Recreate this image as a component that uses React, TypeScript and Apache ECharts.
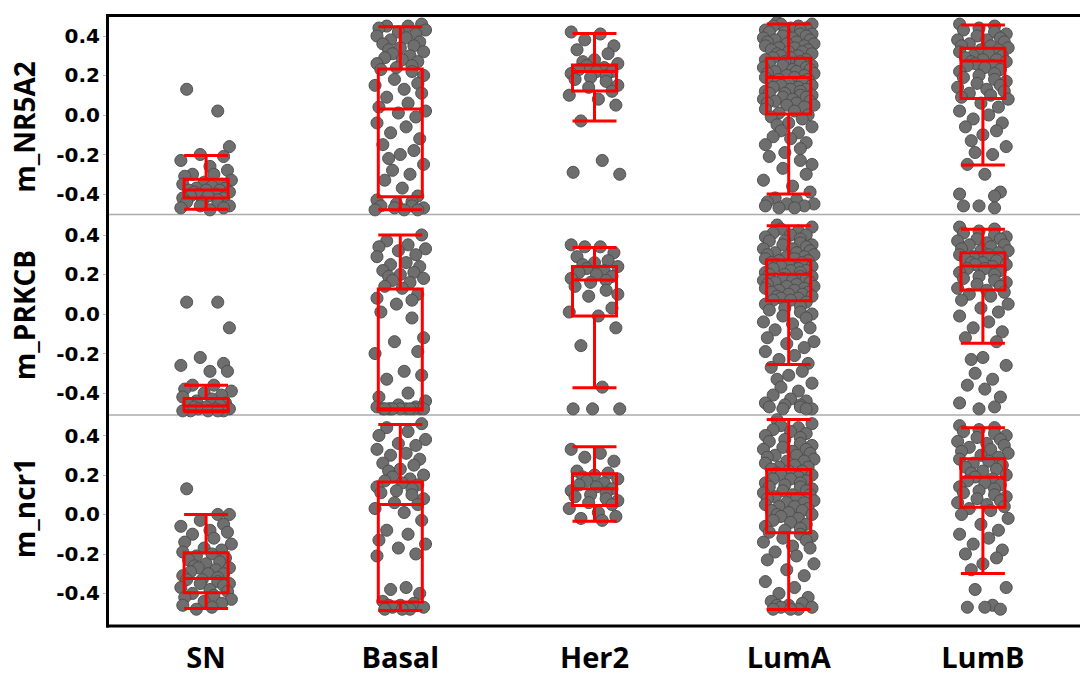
import React, { useEffect, useRef } from "react";
import * as echarts from "echarts";

const CATEGORIES = ["SN", "Basal", "Her2", "LumA", "LumB"];
const Y_TICKS = [-0.4, -0.2, 0, 0.2, 0.4];
const PANEL_NAMES = ["m_NR5A2", "m_PRKCB", "m_ncr1"];

// box stats per category: [min, Q1, median, Q3, max]
const nr5a2Box = [
  [-0.477, -0.42, -0.38, -0.325, -0.205],
  [-0.48, -0.414, 0.03, 0.233, 0.447],
  [-0.03, 0.122, 0.22, 0.253, 0.412],
  [-0.4, 0.005, 0.19, 0.287, 0.46],
  [-0.253, 0.084, 0.273, 0.338, 0.456],
];
const prkcbBox = [
  [-0.495, -0.49, -0.465, -0.427, -0.36],
  [-0.486, -0.486, -0.48, 0.127, 0.4],
  [-0.373, -0.01, 0.172, 0.24, 0.336],
  [-0.255, 0.067, 0.201, 0.273, 0.447],
  [-0.148, 0.122, 0.243, 0.31, 0.429],
];
const ncr1Box = [
  [-0.476, -0.397, -0.324, -0.194, 0.0],
  [-0.486, -0.444, 0.05, 0.164, 0.456],
  [-0.034, 0.046, 0.13, 0.206, 0.343],
  [-0.481, -0.093, 0.105, 0.228, 0.481],
  [-0.299, 0.037, 0.189, 0.282, 0.439],
];

// individual sample values
const nr5a2SN = [0.13, 0.02, -0.16, -0.2, -0.21, -0.23, -0.26, -0.28, -0.3, -0.3, -0.31, -0.33, -0.34, -0.35, -0.35, -0.36, -0.37, -0.37, -0.38, -0.38, -0.38, -0.39, -0.39, -0.4, -0.4, -0.41, -0.41, -0.42, -0.42, -0.43, -0.44, -0.44, -0.45, -0.46, -0.46, -0.47, -0.47, -0.48];
const nr5a2Basal = [0.46, 0.45, 0.45, 0.44, 0.43, 0.42, 0.41, 0.4, 0.39, 0.38, 0.37, 0.36, 0.35, 0.34, 0.33, 0.32, 0.31, 0.3, 0.29, 0.28, 0.27, 0.26, 0.25, 0.24, 0.23, 0.22, 0.2, 0.18, 0.16, 0.15, 0.13, 0.11, 0.09, 0.06, 0.04, 0.02, 0.01, -0.01, -0.04, -0.06, -0.09, -0.12, -0.15, -0.18, -0.2, -0.22, -0.25, -0.28, -0.3, -0.33, -0.37, -0.41, -0.43, -0.44, -0.45, -0.46, -0.46, -0.47, -0.47, -0.48, -0.48, -0.48];
const nr5a2Her2 = [0.42, 0.41, 0.38, 0.35, 0.33, 0.31, 0.28, 0.27, 0.26, 0.25, 0.24, 0.23, 0.22, 0.22, 0.21, 0.2, 0.19, 0.18, 0.17, 0.15, 0.14, 0.12, 0.1, 0.08, 0.05, -0.03, -0.23, -0.29, -0.3];
const nr5a2LumA = [0.47, 0.46, 0.46, 0.45, 0.45, 0.44, 0.44, 0.43, 0.43, 0.42, 0.42, 0.41, 0.41, 0.4, 0.4, 0.39, 0.39, 0.38, 0.38, 0.37, 0.37, 0.36, 0.36, 0.35, 0.35, 0.34, 0.34, 0.33, 0.33, 0.32, 0.32, 0.31, 0.31, 0.3, 0.3, 0.29, 0.29, 0.28, 0.28, 0.27, 0.27, 0.26, 0.26, 0.25, 0.25, 0.24, 0.24, 0.23, 0.23, 0.22, 0.22, 0.21, 0.21, 0.2, 0.2, 0.19, 0.19, 0.18, 0.18, 0.17, 0.17, 0.16, 0.16, 0.15, 0.15, 0.14, 0.14, 0.13, 0.13, 0.12, 0.12, 0.11, 0.11, 0.1, 0.1, 0.09, 0.09, 0.08, 0.08, 0.07, 0.07, 0.06, 0.06, 0.05, 0.05, 0.04, 0.03, 0.02, 0.01, 0.0, -0.01, -0.02, -0.04, -0.05, -0.06, -0.08, -0.09, -0.11, -0.12, -0.14, -0.15, -0.17, -0.19, -0.21, -0.23, -0.25, -0.27, -0.3, -0.33, -0.36, -0.39, -0.42, -0.43, -0.44, -0.45, -0.45, -0.46, -0.46, -0.47, -0.47];
const nr5a2LumB = [0.46, 0.45, 0.44, 0.43, 0.42, 0.41, 0.4, 0.39, 0.38, 0.38, 0.37, 0.36, 0.35, 0.35, 0.34, 0.33, 0.33, 0.32, 0.31, 0.3, 0.3, 0.29, 0.28, 0.28, 0.27, 0.27, 0.26, 0.25, 0.25, 0.24, 0.23, 0.22, 0.21, 0.2, 0.19, 0.18, 0.17, 0.16, 0.15, 0.14, 0.13, 0.12, 0.11, 0.1, 0.09, 0.08, 0.06, 0.04, 0.02, 0.0, -0.02, -0.04, -0.06, -0.08, -0.1, -0.13, -0.16, -0.19, -0.2, -0.25, -0.3, -0.39, -0.4, -0.41, -0.46, -0.46, -0.47];

const prkcbSN = [0.06, 0.06, -0.07, -0.22, -0.25, -0.26, -0.29, -0.29, -0.36, -0.36, -0.38, -0.39, -0.4, -0.41, -0.42, -0.43, -0.44, -0.45, -0.46, -0.46, -0.47, -0.47, -0.48, -0.48, -0.48, -0.49, -0.49, -0.49, -0.49, -0.49];
const prkcbBasal = [0.4, 0.37, 0.35, 0.34, 0.33, 0.32, 0.3, 0.29, 0.26, 0.25, 0.24, 0.22, 0.21, 0.2, 0.19, 0.18, 0.17, 0.16, 0.14, 0.13, 0.1, 0.08, 0.07, 0.05, 0.01, -0.02, -0.12, -0.14, -0.19, -0.2, -0.29, -0.31, -0.33, -0.4, -0.42, -0.44, -0.46, -0.47, -0.47, -0.48, -0.48, -0.48, -0.48, -0.48, -0.48, -0.48, -0.48, -0.48, -0.48, -0.48];
const prkcbHer2 = [0.35, 0.34, 0.34, 0.31, 0.29, 0.27, 0.26, 0.25, 0.24, 0.23, 0.22, 0.21, 0.2, 0.19, 0.18, 0.17, 0.16, 0.14, 0.12, 0.1, 0.09, 0.03, 0.01, -0.01, -0.07, -0.16, -0.37, -0.48, -0.48, -0.48];
const prkcbLumA = [0.45, 0.44, 0.43, 0.42, 0.41, 0.4, 0.4, 0.39, 0.38, 0.37, 0.37, 0.36, 0.35, 0.35, 0.34, 0.33, 0.33, 0.32, 0.31, 0.31, 0.3, 0.3, 0.29, 0.29, 0.28, 0.28, 0.27, 0.27, 0.26, 0.26, 0.25, 0.25, 0.24, 0.24, 0.23, 0.23, 0.22, 0.22, 0.21, 0.21, 0.2, 0.2, 0.19, 0.19, 0.18, 0.18, 0.17, 0.17, 0.16, 0.16, 0.15, 0.15, 0.14, 0.14, 0.13, 0.13, 0.12, 0.12, 0.11, 0.11, 0.1, 0.1, 0.09, 0.09, 0.08, 0.08, 0.07, 0.07, 0.06, 0.05, 0.04, 0.03, 0.02, 0.01, 0.0, -0.01, -0.02, -0.04, -0.05, -0.07, -0.08, -0.1, -0.12, -0.14, -0.15, -0.17, -0.19, -0.21, -0.23, -0.25, -0.27, -0.29, -0.31, -0.33, -0.35, -0.37, -0.39, -0.41, -0.43, -0.44, -0.45, -0.46, -0.46, -0.47, -0.47, -0.48, -0.48, -0.48];
const prkcbLumB = [0.44, 0.43, 0.42, 0.41, 0.4, 0.39, 0.38, 0.38, 0.37, 0.36, 0.35, 0.35, 0.34, 0.33, 0.32, 0.32, 0.31, 0.3, 0.3, 0.29, 0.28, 0.28, 0.27, 0.26, 0.26, 0.25, 0.25, 0.24, 0.23, 0.23, 0.22, 0.21, 0.2, 0.19, 0.18, 0.17, 0.16, 0.15, 0.14, 0.13, 0.12, 0.11, 0.1, 0.09, 0.07, 0.05, 0.03, 0.01, -0.01, -0.04, -0.07, -0.09, -0.12, -0.14, -0.22, -0.23, -0.26, -0.3, -0.33, -0.36, -0.38, -0.42, -0.45, -0.47, -0.48];

const ncr1SN = [0.13, 0.0, 0.0, -0.03, -0.05, -0.06, -0.08, -0.09, -0.1, -0.12, -0.14, -0.15, -0.17, -0.18, -0.19, -0.2, -0.21, -0.22, -0.23, -0.24, -0.25, -0.26, -0.27, -0.27, -0.28, -0.29, -0.3, -0.3, -0.31, -0.32, -0.33, -0.33, -0.34, -0.35, -0.35, -0.36, -0.37, -0.38, -0.39, -0.4, -0.41, -0.42, -0.43, -0.44, -0.45, -0.46, -0.47, -0.48];
const ncr1Basal = [0.46, 0.44, 0.42, 0.4, 0.38, 0.36, 0.35, 0.33, 0.31, 0.3, 0.28, 0.26, 0.25, 0.23, 0.22, 0.2, 0.19, 0.18, 0.17, 0.16, 0.15, 0.14, 0.13, 0.12, 0.11, 0.1, 0.08, 0.06, 0.05, 0.03, 0.01, -0.03, -0.08, -0.1, -0.13, -0.15, -0.17, -0.2, -0.21, -0.37, -0.38, -0.4, -0.44, -0.45, -0.46, -0.46, -0.47, -0.47, -0.48, -0.48, -0.48];
const ncr1Her2 = [0.33, 0.31, 0.29, 0.27, 0.22, 0.21, 0.2, 0.19, 0.18, 0.17, 0.16, 0.15, 0.14, 0.13, 0.12, 0.11, 0.1, 0.09, 0.08, 0.07, 0.06, 0.05, 0.03, 0.01, -0.01, -0.02, -0.03];
const ncr1LumA = [0.48, 0.46, 0.45, 0.44, 0.43, 0.42, 0.41, 0.4, 0.39, 0.38, 0.37, 0.36, 0.35, 0.34, 0.33, 0.33, 0.32, 0.31, 0.3, 0.3, 0.29, 0.28, 0.27, 0.27, 0.26, 0.25, 0.24, 0.24, 0.23, 0.22, 0.22, 0.21, 0.2, 0.2, 0.19, 0.18, 0.18, 0.17, 0.16, 0.16, 0.15, 0.14, 0.14, 0.13, 0.12, 0.12, 0.11, 0.1, 0.1, 0.09, 0.08, 0.08, 0.07, 0.06, 0.06, 0.05, 0.04, 0.04, 0.03, 0.02, 0.02, 0.01, 0.0, 0.0, -0.01, -0.02, -0.03, -0.04, -0.05, -0.06, -0.07, -0.08, -0.09, -0.1, -0.11, -0.12, -0.13, -0.14, -0.16, -0.17, -0.19, -0.21, -0.23, -0.25, -0.28, -0.31, -0.34, -0.37, -0.4, -0.42, -0.44, -0.45, -0.46, -0.46, -0.47, -0.47, -0.48, -0.48, -0.48];
const ncr1LumB = [0.45, 0.44, 0.43, 0.42, 0.41, 0.4, 0.39, 0.38, 0.37, 0.36, 0.35, 0.34, 0.33, 0.32, 0.31, 0.3, 0.29, 0.28, 0.27, 0.26, 0.25, 0.24, 0.23, 0.22, 0.21, 0.2, 0.19, 0.18, 0.17, 0.16, 0.15, 0.14, 0.13, 0.12, 0.11, 0.1, 0.09, 0.08, 0.07, 0.06, 0.05, 0.04, 0.03, 0.02, 0.0, -0.02, -0.05, -0.08, -0.1, -0.12, -0.15, -0.18, -0.2, -0.22, -0.25, -0.28, -0.37, -0.38, -0.46, -0.47, -0.47, -0.48];

// horizontal jitter offsets (in category units), cycled over points
const JITTER = [-0.1, 0.06, 0.12, -0.03, 0.09, -0.13, 0.02, 0.11, -0.07, 0.04, -0.11, 0.13, -0.01, 0.08, -0.12, 0.03, -0.05, 0.1, -0.09, 0.07, 0.0, -0.06, 0.12, -0.04, 0.05, -0.08, 0.01, 0.09, -0.12, 0.06, -0.02];

const PANEL_POINTS = [
  [nr5a2SN, nr5a2Basal, nr5a2Her2, nr5a2LumA, nr5a2LumB],
  [prkcbSN, prkcbBasal, prkcbHer2, prkcbLumA, prkcbLumB],
  [ncr1SN, ncr1Basal, ncr1Her2, ncr1LumA, ncr1LumB],
];
const PANEL_BOXES = [nr5a2Box, prkcbBox, ncr1Box];

const PANEL_LAYOUT = [
  { top: 15, height: 199, min: -0.501, max: 0.506, nameY: 127 },
  { top: 214, height: 201, min: -0.511, max: 0.506, nameY: 315 },
  { top: 415, height: 211, min: -0.565, max: 0.504, nameY: 508 },
];

const GRID_LEFT = 109;
const GRID_WIDTH = 981;

export default function App() {
  const ref = useRef<HTMLDivElement>(null);

  useEffect(() => {
    if (!ref.current) return;
    const chart = echarts.init(ref.current, null, { renderer: "svg" });

    const grid: any[] = [];
    const xAxis: any[] = [];
    const yAxis: any[] = [];
    const series: any[] = [];

    PANEL_LAYOUT.forEach((p, k) => {
      grid.push({ left: GRID_LEFT, top: p.top, width: GRID_WIDTH, height: p.height, containLabel: false });
      xAxis.push({
        gridIndex: k,
        type: "category",
        data: CATEGORIES,
        boundaryGap: true,
        axisLine: { show: false, onZero: false },
        axisTick: { show: false },
        splitLine: { show: false },
        axisLabel: {
          show: k === 2,
          color: "#000",
          fontSize: 29,
          lineHeight: 29,
          fontWeight: "bold",
          fontFamily: "Open Sans",
          margin: 16,
        },
      });
      xAxis.push({ gridIndex: k, type: "value", min: -0.5, max: 4.5, show: false, axisLine: { onZero: false } });
      yAxis.push({
        gridIndex: k,
        type: "value",
        min: p.min,
        max: p.max,
        axisLine: { show: false, onZero: false },
        splitLine: { show: false },
        axisTick: {
          show: true,
          length: 6,
          customValues: Y_TICKS,
          lineStyle: { color: "#b8b8b8", width: 1 },
        },
        axisLabel: {
          customValues: Y_TICKS,
          formatter: (v: number) => v.toFixed(1),
          color: "#000",
          fontSize: 20,
          lineHeight: 20,
          padding: [7, 0, 0, 0],
          fontWeight: "bold",
          fontFamily: "DejaVu Sans",
          margin: 9,
        },
      });

      const pts: number[][] = [];
      PANEL_POINTS[k].forEach((vals, g) => {
        vals.forEach((v, i) => {
          pts.push([g + JITTER[(i + g * 7) % JITTER.length], v]);
        });
      });
      series.push({
        type: "scatter",
        xAxisIndex: 2 * k + 1,
        yAxisIndex: k,
        data: pts,
        symbol: "circle",
        symbolSize: 12,
        clip: false,
        silent: true,
        itemStyle: { color: "#6e6e6e", borderColor: "#4e4e4e", borderWidth: 1, opacity: 1 },
        z: 2,
      });
      series.push({
        type: "boxplot",
        xAxisIndex: 2 * k,
        yAxisIndex: k,
        data: PANEL_BOXES[k],
        boxWidth: [44, 44],
        silent: true,
        itemStyle: { color: "rgba(0,0,0,0)", borderColor: "#ff0000", borderWidth: 3 },
        z: 3,
      });
    });

    const graphic: any[] = [
      { type: "line", z: 10, shape: { x1: 106, y1: 15.5, x2: 1080, y2: 15.5 }, style: { stroke: "#000", lineWidth: 3 } },
      { type: "line", z: 10, shape: { x1: 106, y1: 626, x2: 1080, y2: 626 }, style: { stroke: "#000", lineWidth: 3 } },
      { type: "line", z: 10, shape: { x1: 107.5, y1: 14, x2: 107.5, y2: 627.5 }, style: { stroke: "#000", lineWidth: 3 } },
      { type: "line", z: 1, shape: { x1: 109, y1: 214.5, x2: 1080, y2: 214.5 }, style: { stroke: "#ababab", lineWidth: 1.5 } },
      { type: "line", z: 1, shape: { x1: 109, y1: 415, x2: 1080, y2: 415 }, style: { stroke: "#ababab", lineWidth: 1.5 } },
    ];
    PANEL_LAYOUT.forEach((p, k) => {
      graphic.push({
        type: "text",
        x: 24,
        y: p.nameY,
        rotation: Math.PI / 2,
        z: 10,
        style: {
          text: PANEL_NAMES[k],
          fill: "#000",
          font: "bold 28px 'Open Sans'",
          align: "center",
          verticalAlign: "middle",
        },
      });
    });

    chart.setOption({
      animation: false,
      backgroundColor: "#fff",
      grid,
      xAxis,
      yAxis,
      series,
      graphic,
    });

    return () => chart.dispose();
  }, []);

  return (
    <div
      ref={ref}
      style={{ position: "fixed", left: 0, top: 0, width: 1080, height: 675, background: "#fff" }}
    />
  );
}
